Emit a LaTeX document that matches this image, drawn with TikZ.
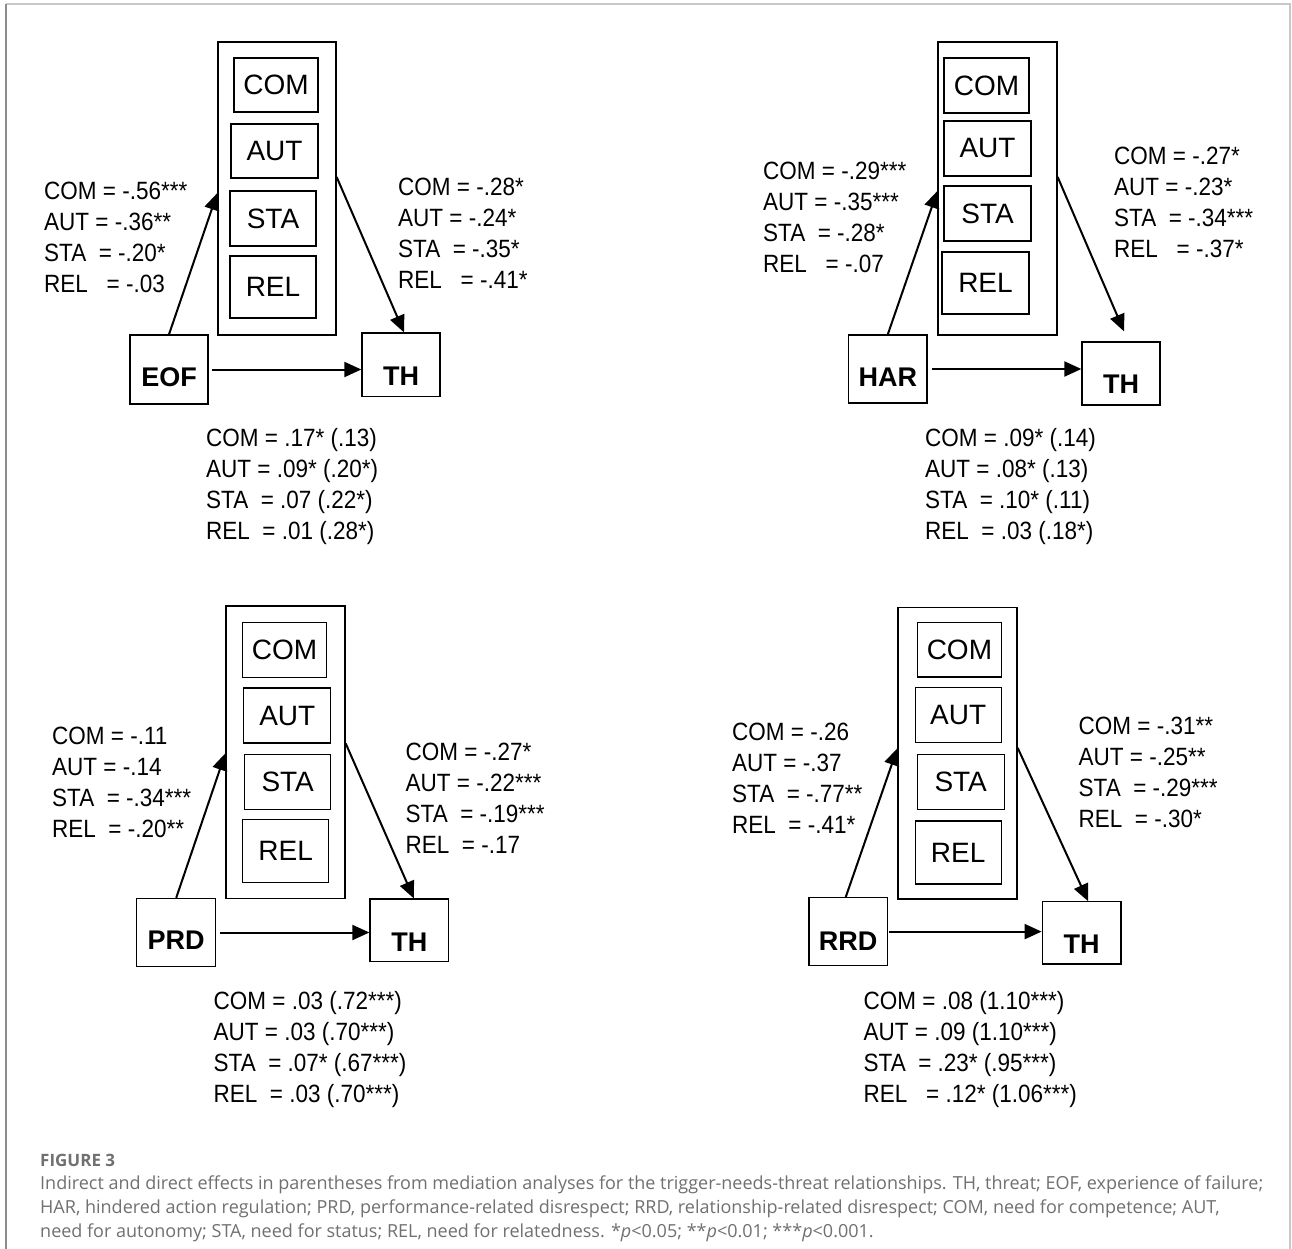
\documentclass[tikz,border=0pt]{standalone}
\usepackage{fontspec}
\setmainfont{Liberation Sans}
\newfontfamily\narrowfont[FakeStretch=0.9]{Liberation Sans}
\newfontfamily\capfont{Open Sans}
\usetikzlibrary{arrows.meta,calc}
\definecolor{capgray}{HTML}{707070}
\definecolor{framedark}{HTML}{8C8C8C}
\definecolor{framelight}{HTML}{C8C8C8}
\begin{document}
\begin{tikzpicture}[x={(1pt,0pt)},y={(0pt,-1pt)},
  box/.style={draw=black,line width=1.3pt,inner sep=0pt},
  needbox/.style={box,font=\fontsize{28}{28}\selectfont},
  keybox/.style={box,font=\fontsize{27}{27}\selectfont\bfseries,text height=#1,text depth=0pt},
  medbox/.style={box},
  coef/.style={font=\narrowfont\fontsize{25}{31}\selectfont,align=left,anchor=north west,inner sep=0pt},
  arr/.style={line width=2pt,-{Triangle[length=17pt,width=15pt]}},
  capline/.style={font=\capfont\fontsize{18}{18}\selectfont,text=capgray,anchor=west,inner sep=0pt},
]
\useasboundingbox (0,0) rectangle (1292,1249);
\fill[white] (0,0) rectangle (1292,1249);
% frame
\draw[framelight,line width=2pt] (6,4) -- (1290,4) -- (1290,1249);
\draw[framedark,line width=2pt] (6,4) -- (6,1249);

% ================= Panel 1 (EOF) =================
\node[medbox,minimum width=118pt,minimum height=293pt] (p1m) at (277,188.5) {};
\node[needbox,minimum width=84pt,minimum height=54pt] (p1com) at (276,85) {COM};
\node[needbox,minimum width=87pt,minimum height=54pt] (p1aut) at (274.5,151) {AUT};
\node[needbox,minimum width=86pt,minimum height=55pt] (p1sta) at (273,218.5) {STA};
\node[needbox,minimum width=86pt,minimum height=62pt] (p1rel) at (273,287) {REL};
\node[keybox=33pt,minimum width=78pt,minimum height=69pt] (p1x) at (169,369.5) {EOF};
\node[keybox=42pt,minimum width=78pt,minimum height=63.5pt] (p1th) at (401,364.8) {TH};
\node[coef] (p1l) at (44,182) {COM = -.56***\\AUT = -.36**\\STA~ = -.20*\\REL~~ = -.03};
\node[coef] (p1r) at (398,178) {COM = -.28*\\AUT = -.24*\\STA~ = -.35*\\REL~~ = -.41*};
\node[coef] (p1b) at (206,428) {COM = .17* (.13)\\AUT = .09* (.20*)\\STA~ = .07 (.22*)\\REL~ = .01 (.28*)};
\draw[arr] (p1x.north) -- ([yshift=-4.5pt]p1m.west);
\draw[arr] ([yshift=11.5pt]p1m.east) -- ([xshift=3pt]p1th.north);
\draw[arr] ([xshift=3pt]p1x.east) -- (p1x.east -| p1th.west);

% ================= Panel 2 (HAR) =================
\node[medbox,minimum width=119pt,minimum height=293pt] (p2m) at (997.5,188.5) {};
\node[needbox,minimum width=85pt,minimum height=55pt] (p2com) at (986.5,85.5) {COM};
\node[needbox,minimum width=87pt,minimum height=55pt] (p2aut) at (987.5,148.5) {AUT};
\node[needbox,minimum width=87pt,minimum height=55pt] (p2sta) at (987.5,213.5) {STA};
\node[needbox,minimum width=87pt,minimum height=62pt] (p2rel) at (985.5,283) {REL};
\node[keybox=34pt,minimum width=78.4pt,minimum height=68pt] (p2x) at (887.8,369) {HAR};
\node[keybox=39pt,minimum width=78pt,minimum height=63pt] (p2th) at (1121,373.5) {TH};
\node[coef] (p2l) at (763,162) {COM = -.29***\\AUT = -.35***\\STA~ = -.28*\\REL~~ = -.07};
\node[coef] (p2r) at (1114,147) {COM = -.27*\\AUT = -.23*\\STA~ = -.34***\\REL~~ = -.37*};
\node[coef] (p2b) at (925,428) {COM = .09* (.14)\\AUT = .08* (.13)\\STA~ = .10* (.11)\\REL~ = .03 (.18*)};
\draw[arr] (p2x.north) -- ([yshift=-2.5pt]p2m.west);
\draw[arr] ([yshift=11.5pt]p2m.east) -- ([xshift=3pt,yshift=10pt]p2th.north);
\draw[arr] ([xshift=4pt]p2x.east) -- (p2x.east -| p2th.west);

% ================= Panel 3 (PRD) =================
\node[medbox,minimum width=119pt,minimum height=292.5pt] (p3m) at (285.5,752.3) {};
\node[needbox,minimum width=84pt,minimum height=55.5pt] (p3com) at (284.6,650) {COM};
\node[needbox,minimum width=87pt,minimum height=55pt] (p3aut) at (287.3,715.5) {AUT};
\node[needbox,minimum width=86pt,minimum height=55pt] (p3sta) at (287.7,782.3) {STA};
\node[needbox,minimum width=86pt,minimum height=63pt] (p3rel) at (285.7,851) {REL};
\node[keybox=34pt,minimum width=79pt,minimum height=68pt] (p3x) at (176.2,932.5) {PRD};
\node[keybox=43pt,minimum width=78.6pt,minimum height=62.5pt] (p3th) at (409.3,930.3) {TH};
\node[coef] (p3l) at (52,727) {COM = -.11\\AUT = -.14\\STA~ = -.34***\\REL~ = -.20**};
\node[coef] (p3r) at (405.5,743) {COM = -.27*\\AUT = -.22***\\STA~ = -.19***\\REL~ = -.17};
\node[coef] (p3b) at (213.5,991) {COM = .03 (.72***)\\AUT = .03 (.70***)\\STA~ = .07* (.67***)\\REL~ = .03 (.70***)};
\draw[arr] (p3x.north) -- ([yshift=-1pt]p3m.west);
\draw[arr] ([yshift=9pt]p3m.east) -- ([xshift=4.5pt]p3th.north);
\draw[arr] ([xshift=3.5pt]p3x.east) -- (p3x.east -| p3th.west);

% ================= Panel 4 (RRD) =================
\node[medbox,minimum width=119pt,minimum height=291.4pt] (p4m) at (957.5,753.3) {};
\node[needbox,minimum width=84pt,minimum height=54.5pt] (p4com) at (959.4,649.8) {COM};
\node[needbox,minimum width=86pt,minimum height=55pt] (p4aut) at (958.2,715.3) {AUT};
\node[needbox,minimum width=87pt,minimum height=55pt] (p4sta) at (960.7,782.3) {STA};
\node[needbox,minimum width=86pt,minimum height=63pt] (p4rel) at (958.2,852.5) {REL};
\node[keybox=38pt,minimum width=78.6pt,minimum height=67.6pt] (p4x) at (848.2,931.6) {RRD};
\node[keybox=42pt,minimum width=78.7pt,minimum height=62.2pt] (p4th) at (1081.6,932.9) {TH};
\node[coef] (p4l) at (732,723) {COM = -.26\\AUT = -.37\\STA~ = -.77**\\REL~ = -.41*};
\node[coef] (p4r) at (1078.5,717) {COM = -.31**\\AUT = -.25**\\STA~ = -.29***\\REL~ = -.30*};
\node[coef] (p4b) at (863.5,991) {COM = .08 (1.10***)\\AUT = .09 (1.10***)\\STA~ = .23* (.95***)\\REL~~ = .12* (1.06***)};
\draw[arr] ([xshift=-2.5pt]p4x.north) -- ([yshift=5pt]p4m.west);
\draw[arr] ([yshift=5.5pt]p4m.east) -- ([xshift=6.5pt]p4th.north);
\draw[arr] ([xshift=1pt]p4x.east) -- (p4x.east -| p4th.west);

% ================= Caption =================
\node[capline,font=\capfont\bfseries\fontsize{17}{17}\selectfont] (capt) at (40,1160) {FIGURE 3};
\node[capline] (cap1) at (40,1185) {Indirect and direct effects in parentheses from mediation analyses for the trigger-needs-threat relationships. TH, threat; EOF, experience of failure;};
\node[capline] (cap2) at (40,1209) {HAR, hindered action regulation; PRD, performance-related disrespect; RRD, relationship-related disrespect; COM, need for competence; AUT,};
\node[capline] (cap3) at (40,1233) {need for autonomy; STA, need for status; REL, need for relatedness. *\textit{p}<0.05; **\textit{p}<0.01; ***\textit{p}<0.001.};
\end{tikzpicture}
\end{document}
